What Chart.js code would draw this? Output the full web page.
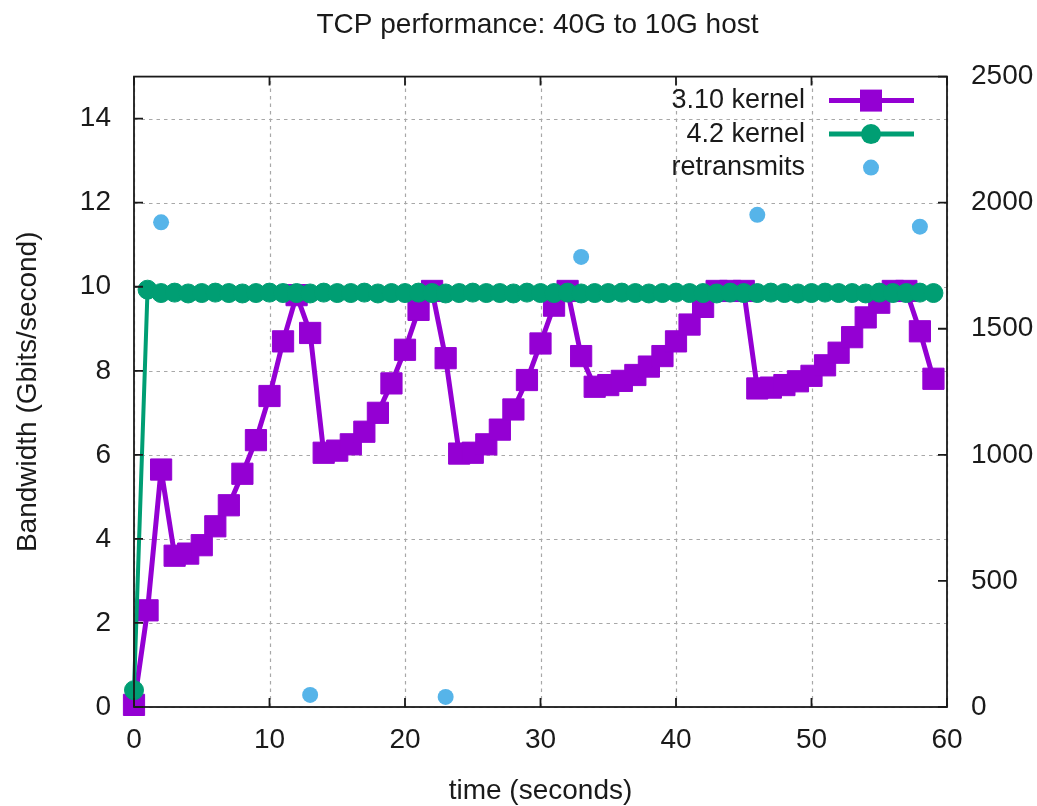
<!DOCTYPE html>
<html>
<head>
<meta charset="utf-8">
<title>TCP performance: 40G to 10G host</title>
<script src="https://cdn.jsdelivr.net/npm/chart.js@4.4.0/dist/chart.umd.min.js"></script>
<style>
  html, body { margin: 0; padding: 0; background: #ffffff; }
  #wrap { width: 1037px; height: 806px; }
</style>
</head>
<body>
<div id="wrap"><canvas id="c" width="1037" height="806"></canvas></div>
<script>
// Sample times (seconds)
const seconds = [
  0, 1, 2, 3, 4, 5, 6, 7, 8, 9,
  10, 11, 12, 13, 14, 15, 16, 17, 18, 19,
  20, 21, 22, 23, 24, 25, 26, 27, 28, 29,
  30, 31, 32, 33, 34, 35, 36, 37, 38, 39,
  40, 41, 42, 43, 44, 45, 46, 47, 48, 49,
  50, 51, 52, 53, 54, 55, 56, 57, 58, 59
];

// Throughput with the 3.10 kernel (Gbits/second)
const kernel310 = [
  0.05, 2.3, 5.65, 3.6, 3.65, 3.85, 4.3, 4.8, 5.55, 6.35,
  7.4, 8.7, 9.8, 8.9, 6.05, 6.1, 6.25, 6.55, 7.0, 7.7,
  8.5, 9.45, 9.9, 8.3, 6.03, 6.05, 6.25, 6.6, 7.08, 7.78,
  8.65, 9.55, 9.9, 8.35, 7.62, 7.66, 7.76, 7.9, 8.1, 8.35,
  8.7, 9.1, 9.52, 9.9, 9.9, 9.9, 7.58, 7.6, 7.66, 7.75,
  7.88, 8.13, 8.43, 8.8, 9.27, 9.62, 9.9, 9.9, 8.94, 7.81
];

// Throughput with the 4.2 kernel (Gbits/second)
const kernel42 = [
  0.4, 9.93, 9.85, 9.86, 9.84, 9.85, 9.86, 9.85, 9.84, 9.85,
  9.86, 9.85, 9.85, 9.84, 9.86, 9.85, 9.85, 9.86, 9.84, 9.85,
  9.85, 9.86, 9.85, 9.84, 9.85, 9.86, 9.85, 9.85, 9.84, 9.86,
  9.85, 9.85, 9.86, 9.84, 9.85, 9.85, 9.86, 9.85, 9.84, 9.85,
  9.86, 9.85, 9.85, 9.84, 9.86, 9.85, 9.85, 9.86, 9.85, 9.84,
  9.85, 9.86, 9.85, 9.85, 9.84, 9.86, 9.85, 9.85, 9.86, 9.85
];

// Retransmit counts (right axis)
const retransmitTimes  = [2, 13, 23, 33, 46, 58];
const retransmitCounts = [1922, 48, 40, 1785, 1952, 1905];

// Axis ticks
const timeTicks = [0, 10, 20, 30, 40, 50, 60];
const bandwidthTicks = [0, 2, 4, 6, 8, 10, 12, 14];
const retransmitTicks = [0, 500, 1000, 1500, 2000, 2500];

const chartTitle = 'TCP performance: 40G to 10G host';
const seriesNames = ['3.10 kernel', '4.2 kernel', 'retransmits'];

const PURPLE = '#9400d3';
const GREEN = '#009e73';
const SKY = '#56b4e9';
const INK = '#1a1a1a';
const FONT = '"Liberation Sans", Arial, Helvetica, sans-serif';

const toPoints = (xs, ys) => xs.map((x, i) => ({ x: x, y: ys[i] }));

// Dashed grid drawn under the data
const gridPlugin = {
  id: 'dashedGrid',
  beforeDatasetsDraw(chart) {
    const { ctx, chartArea: a, scales } = chart;
    ctx.save();
    ctx.strokeStyle = '#a8a8a8';
    ctx.lineWidth = 1.2;
    ctx.setLineDash([3.5, 4]);
    timeTicks.forEach(v => {
      const px = Math.round(scales.x.getPixelForValue(v)) + 0.5;
      ctx.beginPath();
      ctx.moveTo(px, a.bottom);
      ctx.lineTo(px, a.top);
      ctx.stroke();
    });
    bandwidthTicks.forEach(v => {
      const py = Math.round(scales.y.getPixelForValue(v)) + 0.5;
      ctx.beginPath();
      ctx.moveTo(a.left, py);
      ctx.lineTo(a.right, py);
      ctx.stroke();
    });
    ctx.restore();
  }
};

// Frame with inward tick marks, drawn over the data
const framePlugin = {
  id: 'frame',
  afterDatasetsDraw(chart) {
    const { ctx, chartArea: a, scales } = chart;
    const tl = 9;
    ctx.save();
    ctx.strokeStyle = INK;
    ctx.lineWidth = 1.8;
    ctx.setLineDash([]);
    ctx.beginPath();
    timeTicks.forEach(v => {
      const px = scales.x.getPixelForValue(v);
      ctx.moveTo(px, a.bottom); ctx.lineTo(px, a.bottom - tl);
      ctx.moveTo(px, a.top); ctx.lineTo(px, a.top + tl);
    });
    bandwidthTicks.forEach(v => {
      const py = scales.y.getPixelForValue(v);
      ctx.moveTo(a.left, py); ctx.lineTo(a.left + tl, py);
    });
    retransmitTicks.forEach(v => {
      const py = scales.y2.getPixelForValue(v);
      ctx.moveTo(a.right, py); ctx.lineTo(a.right - tl, py);
    });
    ctx.stroke();
    ctx.strokeRect(a.left, a.top, a.right - a.left, a.bottom - a.top);
    ctx.restore();
  }
};

// Title centred over the plot, and the key in the upper right
const annotatePlugin = {
  id: 'annotate',
  afterDraw(chart) {
    const { ctx, chartArea: a } = chart;
    ctx.save();
    ctx.fillStyle = INK;
    ctx.font = '28px ' + FONT;
    ctx.textAlign = 'center';
    ctx.textBaseline = 'middle';
    ctx.fillText(chartTitle, (a.left + a.right) / 2 - 3, 25);

    const textRight = a.right - 142;
    const sx0 = a.right - 118, sx1 = a.right - 33, mx = a.right - 76;
    const rows = [
      { y: a.top + 24, color: PURPLE, lw: 5, mark: 'rect' },
      { y: a.top + 57.5, color: GREEN, lw: 5, mark: 'circle' },
      { y: a.top + 91, color: SKY, lw: 0, mark: 'dot' }
    ];
    ctx.font = '27px ' + FONT;
    ctx.textAlign = 'right';
    rows.forEach((r, i) => {
      ctx.fillStyle = INK;
      ctx.fillText(seriesNames[i], textRight, r.y);
      if (r.lw) {
        ctx.strokeStyle = r.color;
        ctx.lineWidth = r.lw;
        ctx.beginPath();
        ctx.moveTo(sx0, r.y); ctx.lineTo(sx1, r.y);
        ctx.stroke();
      }
      ctx.fillStyle = r.color;
      ctx.beginPath();
      if (r.mark === 'rect') ctx.rect(mx - 11, r.y - 11, 22, 22);
      else if (r.mark === 'circle') ctx.arc(mx, r.y, 10, 0, Math.PI * 2);
      else ctx.arc(mx, r.y, 8, 0, Math.PI * 2);
      ctx.fill();
    });
    ctx.restore();
  }
};

Chart.defaults.font.family = FONT;
Chart.defaults.color = INK;

new Chart(document.getElementById('c'), {
  type: 'line',
  data: {
    datasets: [
      {
        label: seriesNames[0],
        data: toPoints(seconds, kernel310),
        yAxisID: 'y',
        borderColor: PURPLE,
        backgroundColor: PURPLE,
        borderWidth: 5,
        borderJoinStyle: 'round',
        pointStyle: 'rect',
        pointRadius: 15,
        pointBorderWidth: 1,
        pointBorderColor: PURPLE,
        pointBackgroundColor: PURPLE,
        tension: 0,
        fill: false,
        clip: false,
        order: 2
      },
      {
        label: seriesNames[1],
        data: toPoints(seconds, kernel42),
        yAxisID: 'y',
        borderColor: GREEN,
        backgroundColor: GREEN,
        borderWidth: 4,
        borderJoinStyle: 'round',
        pointStyle: 'circle',
        pointRadius: 9.5,
        pointBorderWidth: 1,
        pointBorderColor: GREEN,
        pointBackgroundColor: GREEN,
        tension: 0,
        fill: false,
        clip: false,
        order: 1
      },
      {
        label: seriesNames[2],
        data: toPoints(retransmitTimes, retransmitCounts),
        yAxisID: 'y2',
        showLine: false,
        borderColor: SKY,
        backgroundColor: SKY,
        pointStyle: 'circle',
        pointRadius: 8,
        pointBorderWidth: 0,
        pointBackgroundColor: SKY,
        clip: false,
        order: 0
      }
    ]
  },
  options: {
    responsive: false,
    animation: false,
    devicePixelRatio: 1,
    events: [],
    layout: { padding: { top: 76.6, left: 0, right: 0, bottom: 0 } },
    plugins: {
      legend: { display: false },
      tooltip: { enabled: false },
      title: { display: false }
    },
    scales: {
      x: {
        type: 'linear',
        min: 0,
        max: 60,
        afterBuildTicks: s => { s.ticks = timeTicks.map(v => ({ value: v })); },
        afterFit: s => { s.height = 99; },
        grid: { display: false, drawTicks: false },
        border: { display: false },
        ticks: { color: INK, font: { size: 28 }, padding: 16, maxRotation: 0, callback: v => String(v) },
        title: {
          display: true,
          text: 'time (seconds)',
          color: INK,
          font: { size: 28 },
          padding: { top: 0, bottom: -2 }
        }
      },
      y: {
        type: 'linear',
        position: 'left',
        min: 0,
        max: 15,
        afterBuildTicks: s => { s.ticks = bandwidthTicks.map(v => ({ value: v })); },
        afterFit: s => { s.width = 134; },
        grid: { display: false, drawTicks: false },
        border: { display: false },
        ticks: { color: INK, font: { size: 28 }, padding: 23, callback: v => String(v) },
        title: {
          display: true,
          text: 'Bandwidth (Gbits/second)',
          color: INK,
          font: { size: 28 },
          padding: { top: 11, bottom: 0 }
        }
      },
      y2: {
        type: 'linear',
        position: 'right',
        min: 0,
        max: 2500,
        afterBuildTicks: s => { s.ticks = retransmitTicks.map(v => ({ value: v })); },
        afterFit: s => { s.width = 90; },
        grid: { display: false, drawTicks: false },
        border: { display: false },
        ticks: { color: INK, font: { size: 28 }, padding: 24, callback: v => String(v) }
      }
    }
  },
  plugins: [gridPlugin, framePlugin, annotatePlugin]
});
</script>
</body>
</html>
